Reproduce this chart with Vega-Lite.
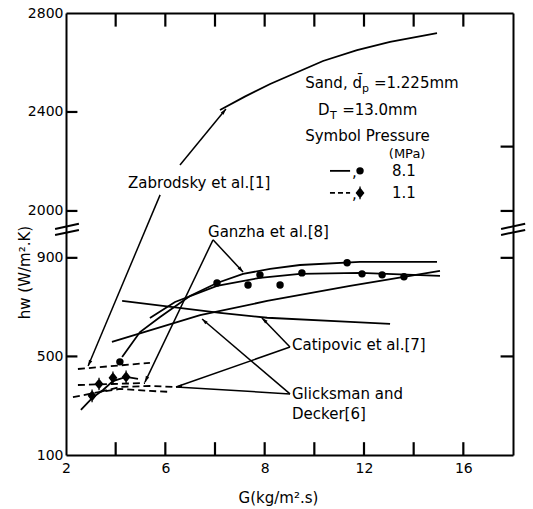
{
  "$schema": "https://vega.github.io/schema/vega-lite/v6.json",
  "width": 447,
  "height": 442,
  "autosize": {"type": "none"},
  "padding": {"left": 66, "top": 13, "right": 20, "bottom": 54},
  "background": "white",
  "config": {
    "view": {"stroke": null},
    "font": "DejaVu Sans",
    "axis": {
      "grid": false,
      "ticks": false,
      "domainColor": "black",
      "domainWidth": 2,
      "labelFont": "DejaVu Sans",
      "labelFontSize": 14,
      "labelColor": "black",
      "titleFont": "DejaVu Sans",
      "titleFontSize": 15,
      "titleFontWeight": "normal",
      "titleColor": "black"
    }
  },
  "datasets": {
    "curves": [
      {"c": "zab", "x": 6.2, "y": 2408}, {"c": "zab", "x": 7.2, "y": 2462}, {"c": "zab", "x": 8.22, "y": 2513}, {"c": "zab", "x": 10.35, "y": 2606}, {"c": "zab", "x": 11.72, "y": 2650}, {"c": "zab", "x": 13.05, "y": 2683}, {"c": "zab", "x": 14.94, "y": 2719},
      {"c": "gan", "x": 2.26, "y": 498}, {"c": "gan", "x": 2.98, "y": 599}, {"c": "gan", "x": 3.79, "y": 660}, {"c": "gan", "x": 4.99, "y": 745}, {"c": "gan", "x": 6.08, "y": 798}, {"c": "gan", "x": 7.13, "y": 835}, {"c": "gan", "x": 8.22, "y": 855}, {"c": "gan", "x": 9.42, "y": 871}, {"c": "gan", "x": 11.84, "y": 884}, {"c": "gan", "x": 14.94, "y": 884},
      {"c": "fit", "x": 3.38, "y": 656}, {"c": "fit", "x": 4.39, "y": 721}, {"c": "fit", "x": 6.08, "y": 786}, {"c": "fit", "x": 7.81, "y": 819}, {"c": "fit", "x": 9.42, "y": 835}, {"c": "fit", "x": 11.84, "y": 839}, {"c": "fit", "x": 15.06, "y": 827},
      {"c": "gli", "x": 1.85, "y": 559}, {"c": "gli", "x": 5.4, "y": 668}, {"c": "gli", "x": 8.1, "y": 725}, {"c": "gli", "x": 11.44, "y": 786}, {"c": "gli", "x": 15.06, "y": 847},
      {"c": "cat", "x": 2.26, "y": 725}, {"c": "cat", "x": 6.2, "y": 677}, {"c": "cat", "x": 8.1, "y": 657}, {"c": "cat", "x": 11.44, "y": 640}, {"c": "cat", "x": 13.05, "y": 632},
      {"c": "low", "x": 0.6, "y": 283}, {"c": "low", "x": 1.05, "y": 331}, {"c": "low", "x": 1.49, "y": 364}, {"c": "low", "x": 1.89, "y": 400}, {"c": "low", "x": 2.42, "y": 417}, {"c": "low", "x": 2.9, "y": 409}
    ],
    "dashed": [
      {"c": "zab1", "x": 0.48, "y": 449}, {"c": "zab1", "x": 3.38, "y": 474},
      {"c": "gan1", "x": 0.48, "y": 384}, {"c": "gan1", "x": 1.77, "y": 388}, {"c": "gan1", "x": 3.18, "y": 392},
      {"c": "gli1", "x": 0.28, "y": 335}, {"c": "gli1", "x": 1.37, "y": 356}, {"c": "gli1", "x": 2.17, "y": 368}, {"c": "gli1", "x": 3.38, "y": 360}, {"c": "gli1", "x": 4.19, "y": 356},
      {"c": "cat1", "x": 1.37, "y": 356}, {"c": "cat1", "x": 2.17, "y": 376}, {"c": "cat1", "x": 3.38, "y": 380}, {"c": "cat1", "x": 4.39, "y": 376}
    ],
    "circles": [
      {"x": 2.17, "y": 478}, {"x": 6.08, "y": 798}, {"x": 7.33, "y": 790}, {"x": 7.81, "y": 831}, {"x": 8.62, "y": 790},
      {"x": 9.5, "y": 839}, {"x": 11.32, "y": 880}, {"x": 11.92, "y": 835}, {"x": 12.73, "y": 831}, {"x": 13.61, "y": 823}
    ],
    "diamonds": [
      {"x": 1.05, "y": 340}, {"x": 1.33, "y": 388}, {"x": 1.89, "y": 413}, {"x": 2.42, "y": 417}
    ],
    "arrows": [
      {"id": "a1", "x": 4.59, "y": 2186, "x2": 6.44, "y2": 2412},
      {"id": "a2", "x": 3.79, "y": 2065, "x2": 0.89, "y2": 461},
      {"id": "a3", "x": 5.92, "y": 973, "x2": 7.13, "y2": 843},
      {"id": "a4", "x": 5.92, "y": 973, "x2": 3.18, "y2": 396},
      {"id": "a5", "x": 9.02, "y": 538, "x2": 7.89, "y2": 656},
      {"id": "a6", "x": 9.02, "y": 538, "x2": 4.43, "y2": 376},
      {"id": "a7", "x": 9.02, "y": 348, "x2": 5.48, "y2": 652},
      {"id": "a8", "x": 9.02, "y": 348, "x2": 4.43, "y2": 376}
    ],
    "texts": [
      {"t": "Zabrodsky et al.[1]", "x": 2.5, "y": 2113},
      {"t": "Ganzha et al.[8]", "x": 5.72, "y": 1005},
      {"t": "Catipovic et al.[7]", "x": 9.1, "y": 547},
      {"t": "Glicksman and", "x": 9.1, "y": 348},
      {"t": "Decker[6]", "x": 9.1, "y": 266},
      {"t": "Sand, d̄", "x": 9.63, "y": 2517},
      {"t": "=1.225mm", "x": 12.4, "y": 2517},
      {"t": "D", "x": 10.15, "y": 2408},
      {"t": "=13.0mm", "x": 11.12, "y": 2408},
      {"t": "Symbol Pressure", "x": 9.63, "y": 2303},
      {"t": ",", "x": 11.52, "y": 2156},
      {"t": "8.1", "x": 13.13, "y": 2162},
      {"t": ",", "x": 11.52, "y": 2067},
      {"t": "1.1", "x": 13.13, "y": 2073}
    ],
    "small": [
      {"t": "(MPa)", "x": 13.0, "y": 2232}
    ],
    "subs": [
      {"t": "p", "x": 11.92, "y": 2493},
      {"t": "T", "x": 10.63, "y": 2384}
    ],
    "leg": [
      {"k": "s", "x": 10.63, "y": 2162}, {"k": "s", "x": 11.44, "y": 2162},
      {"k": "d", "x": 10.63, "y": 2073}, {"k": "d", "x": 11.44, "y": 2073}
    ],
    "legsym": [
      {"k": "s", "x": 11.84, "y": 2162},
      {"k": "d", "x": 11.84, "y": 2073}
    ],
    "breaks": [
      {"x": -0.44, "y": 1927, "x2": 0.52, "y2": 1948},
      {"x": -0.44, "y": 993, "x2": 0.52, "y2": 1013},
      {"x": 17.52, "y": 1927, "x2": 18.49, "y2": 1948},
      {"x": 17.52, "y": 993, "x2": 18.49, "y2": 1013}
    ],
    "tk": [
      {"id": "b2", "x": 2, "y": 100}, {"id": "b2", "x": 2, "y": 152},
      {"id": "b4", "x": 4, "y": 100}, {"id": "b4", "x": 4, "y": 152},
      {"id": "b6", "x": 6, "y": 100}, {"id": "b6", "x": 6, "y": 152},
      {"id": "b8", "x": 8, "y": 100}, {"id": "b8", "x": 8, "y": 152},
      {"id": "b10", "x": 10, "y": 100}, {"id": "b10", "x": 10, "y": 152},
      {"id": "b12", "x": 12, "y": 100}, {"id": "b12", "x": 12, "y": 152},
      {"id": "b14", "x": 14, "y": 100}, {"id": "b14", "x": 14, "y": 152},
      {"id": "b16", "x": 16, "y": 100}, {"id": "b16", "x": 16, "y": 152},
      {"id": "t2", "x": 2, "y": 2800}, {"id": "t2", "x": 2, "y": 2745},
      {"id": "t4", "x": 4, "y": 2800}, {"id": "t4", "x": 4, "y": 2745},
      {"id": "t6", "x": 6, "y": 2800}, {"id": "t6", "x": 6, "y": 2745},
      {"id": "t8", "x": 8, "y": 2800}, {"id": "t8", "x": 8, "y": 2745},
      {"id": "t10", "x": 10, "y": 2800}, {"id": "t10", "x": 10, "y": 2745},
      {"id": "t12", "x": 12, "y": 2800}, {"id": "t12", "x": 12, "y": 2745},
      {"id": "t14", "x": 14, "y": 2800}, {"id": "t14", "x": 14, "y": 2745},
      {"id": "t16", "x": 16, "y": 2800}, {"id": "t16", "x": 16, "y": 2745},
      {"id": "l500", "x": 0, "y": 500}, {"id": "l500", "x": 0.46, "y": 500},
      {"id": "l900", "x": 0, "y": 900}, {"id": "l900", "x": 0.46, "y": 900},
      {"id": "l2000", "x": 0, "y": 2000}, {"id": "l2000", "x": 0.46, "y": 2000},
      {"id": "l2400", "x": 0, "y": 2400}, {"id": "l2400", "x": 0.46, "y": 2400},
      {"id": "r500", "x": 17.5, "y": 500}, {"id": "r500", "x": 18, "y": 500},
      {"id": "r900", "x": 17.5, "y": 900}, {"id": "r900", "x": 18, "y": 900},
      {"id": "r2000", "x": 17.5, "y": 2000}, {"id": "r2000", "x": 18, "y": 2000},
      {"id": "r2260", "x": 17.5, "y": 2260}, {"id": "r2260", "x": 18, "y": 2260}
    ]
  },
  "layer": [
    {
      "data": {"name": "curves"},
      "mark": {"type": "line", "color": "black", "strokeWidth": 1.8},
      "encoding": {
        "x": {"field": "x", "type": "quantitative", "scale": {"domain": [0, 18], "nice": false, "zero": false},
          "axis": {"orient": "bottom", "values": [0, 2, 4, 6, 8, 10, 12, 14, 16], "labelPadding": 6, "labelFlush": false, "labelOverlap": false,
            "labelExpr": "datum.value == 0 ? '2' : datum.value == 4 ? '6' : (datum.value % 4 == 0 ? datum.label : '')",
            "title": "G(kg/m².s)", "titleX": 212, "titleY": 42, "titleBaseline": "middle", "titleAlign": "center"}},
        "y": {"field": "y", "type": "quantitative", "scale": {"domain": [100, 1013, 1923, 2800], "range": [442, 217, 217, 0], "nice": false, "zero": false},
          "axis": {"orient": "left", "values": [100, 500, 900, 2000, 2400, 2800], "format": "d", "labelPadding": 3, "labelOverlap": false, "labelFlush": false,
            "title": "hw (W/m².K)", "titleX": -42, "titleY": 259, "titleAngle": 270, "titleBaseline": "middle", "titleAlign": "center"}},
        "detail": {"field": "c"}
      }
    },
    {
      "data": {"name": "tk"},
      "mark": {"type": "line", "color": "black", "strokeWidth": 2.2},
      "encoding": {
        "x": {"field": "x", "type": "quantitative", "scale": {"domain": [0, 18], "nice": false, "zero": false}, "axis": null},
        "y": {"field": "y", "type": "quantitative", "scale": {"domain": [100, 1013, 1923, 2800], "range": [442, 217, 217, 0], "nice": false, "zero": false}, "axis": null},
        "detail": {"field": "id"}
      }
    },
    {
      "data": {"name": "dashed"},
      "mark": {"type": "line", "color": "black", "strokeWidth": 1.8, "strokeDash": [7, 4]},
      "encoding": {
        "x": {"field": "x", "type": "quantitative", "scale": {"domain": [0, 18], "nice": false, "zero": false}, "axis": null},
        "y": {"field": "y", "type": "quantitative", "scale": {"domain": [100, 1013, 1923, 2800], "range": [442, 217, 217, 0], "nice": false, "zero": false}, "axis": null},
        "detail": {"field": "c"}
      }
    },
    {
      "data": {"name": "arrows"},
      "mark": {"type": "rule", "color": "black", "strokeWidth": 1.5},
      "encoding": {
        "x": {"field": "x", "type": "quantitative", "scale": {"domain": [0, 18], "nice": false, "zero": false}, "axis": null},
        "y": {"field": "y", "type": "quantitative", "scale": {"domain": [100, 1013, 1923, 2800], "range": [442, 217, 217, 0], "nice": false, "zero": false}, "axis": null},
        "x2": {"field": "x2"},
        "y2": {"field": "y2"}
      }
    },
    {
      "data": {"name": "arrows"},
      "transform": [{"filter": "datum.id == 'a1'"}],
      "mark": {"type": "point", "filled": true, "color": "black", "opacity": 1, "size": 64, "angle": 39, "shape": "M0,0L-0.45,1.5L0.45,1.5Z"},
      "encoding": {
        "x": {"field": "x2", "type": "quantitative", "scale": {"domain": [0, 18], "nice": false, "zero": false}, "axis": null},
        "y": {"field": "y2", "type": "quantitative", "scale": {"domain": [100, 1013, 1923, 2800], "range": [442, 217, 217, 0], "nice": false, "zero": false}, "axis": null}
      }
    },
    {
      "data": {"name": "arrows"},
      "transform": [{"filter": "datum.id == 'a2' || datum.id == 'a4'"}],
      "mark": {"type": "point", "filled": true, "color": "black", "opacity": 1, "size": 64, "angle": 205, "shape": "M0,0L-0.45,1.5L0.45,1.5Z"},
      "encoding": {
        "x": {"field": "x2", "type": "quantitative", "scale": {"domain": [0, 18], "nice": false, "zero": false}, "axis": null},
        "y": {"field": "y2", "type": "quantitative", "scale": {"domain": [100, 1013, 1923, 2800], "range": [442, 217, 217, 0], "nice": false, "zero": false}, "axis": null}
      }
    },
    {
      "data": {"name": "arrows"},
      "transform": [{"filter": "datum.id == 'a3'"}],
      "mark": {"type": "point", "filled": true, "color": "black", "opacity": 1, "size": 64, "angle": 137, "shape": "M0,0L-0.45,1.5L0.45,1.5Z"},
      "encoding": {
        "x": {"field": "x2", "type": "quantitative", "scale": {"domain": [0, 18], "nice": false, "zero": false}, "axis": null},
        "y": {"field": "y2", "type": "quantitative", "scale": {"domain": [100, 1013, 1923, 2800], "range": [442, 217, 217, 0], "nice": false, "zero": false}, "axis": null}
      }
    },
    {
      "data": {"name": "arrows"},
      "transform": [{"filter": "datum.id == 'a5' || datum.id == 'a7'"}],
      "mark": {"type": "point", "filled": true, "color": "black", "opacity": 1, "size": 64, "angle": 313, "shape": "M0,0L-0.45,1.5L0.45,1.5Z"},
      "encoding": {
        "x": {"field": "x2", "type": "quantitative", "scale": {"domain": [0, 18], "nice": false, "zero": false}, "axis": null},
        "y": {"field": "y2", "type": "quantitative", "scale": {"domain": [100, 1013, 1923, 2800], "range": [442, 217, 217, 0], "nice": false, "zero": false}, "axis": null}
      }
    },
    {
      "data": {"name": "arrows"},
      "transform": [{"filter": "datum.id == 'a6'"}],
      "mark": {"type": "point", "filled": true, "color": "black", "opacity": 1, "size": 64, "angle": 262, "shape": "M0,0L-0.45,1.5L0.45,1.5Z"},
      "encoding": {
        "x": {"field": "x2", "type": "quantitative", "scale": {"domain": [0, 18], "nice": false, "zero": false}, "axis": null},
        "y": {"field": "y2", "type": "quantitative", "scale": {"domain": [100, 1013, 1923, 2800], "range": [442, 217, 217, 0], "nice": false, "zero": false}, "axis": null}
      }
    },
    {
      "data": {"name": "circles"},
      "mark": {"type": "point", "filled": true, "color": "black", "opacity": 1, "size": 55, "shape": "circle"},
      "encoding": {
        "x": {"field": "x", "type": "quantitative", "scale": {"domain": [0, 18], "nice": false, "zero": false}, "axis": null},
        "y": {"field": "y", "type": "quantitative", "scale": {"domain": [100, 1013, 1923, 2800], "range": [442, 217, 217, 0], "nice": false, "zero": false}, "axis": null}
      }
    },
    {
      "data": {"name": "diamonds"},
      "mark": {"type": "point", "filled": true, "color": "black", "stroke": "black", "strokeWidth": 1.3, "opacity": 1, "size": 81, "shape": "M0,-1.4L0,1.4M-0.8,0L0,-1L0.8,0L0,1Z"},
      "encoding": {
        "x": {"field": "x", "type": "quantitative", "scale": {"domain": [0, 18], "nice": false, "zero": false}, "axis": null},
        "y": {"field": "y", "type": "quantitative", "scale": {"domain": [100, 1013, 1923, 2800], "range": [442, 217, 217, 0], "nice": false, "zero": false}, "axis": null}
      }
    },
    {
      "data": {"name": "leg"},
      "transform": [{"filter": "datum.k == 's'"}],
      "mark": {"type": "line", "color": "black", "strokeWidth": 1.8},
      "encoding": {
        "x": {"field": "x", "type": "quantitative", "scale": {"domain": [0, 18], "nice": false, "zero": false}, "axis": null},
        "y": {"field": "y", "type": "quantitative", "scale": {"domain": [100, 1013, 1923, 2800], "range": [442, 217, 217, 0], "nice": false, "zero": false}, "axis": null}
      }
    },
    {
      "data": {"name": "leg"},
      "transform": [{"filter": "datum.k == 'd'"}],
      "mark": {"type": "line", "color": "black", "strokeWidth": 1.8, "strokeDash": [5, 3]},
      "encoding": {
        "x": {"field": "x", "type": "quantitative", "scale": {"domain": [0, 18], "nice": false, "zero": false}, "axis": null},
        "y": {"field": "y", "type": "quantitative", "scale": {"domain": [100, 1013, 1923, 2800], "range": [442, 217, 217, 0], "nice": false, "zero": false}, "axis": null}
      }
    },
    {
      "data": {"name": "legsym"},
      "transform": [{"filter": "datum.k == 's'"}],
      "mark": {"type": "point", "filled": true, "color": "black", "opacity": 1, "size": 55, "shape": "circle"},
      "encoding": {
        "x": {"field": "x", "type": "quantitative", "scale": {"domain": [0, 18], "nice": false, "zero": false}, "axis": null},
        "y": {"field": "y", "type": "quantitative", "scale": {"domain": [100, 1013, 1923, 2800], "range": [442, 217, 217, 0], "nice": false, "zero": false}, "axis": null}
      }
    },
    {
      "data": {"name": "legsym"},
      "transform": [{"filter": "datum.k == 'd'"}],
      "mark": {"type": "point", "filled": true, "color": "black", "stroke": "black", "strokeWidth": 1.3, "opacity": 1, "size": 81, "shape": "M0,-1.4L0,1.4M-0.8,0L0,-1L0.8,0L0,1Z"},
      "encoding": {
        "x": {"field": "x", "type": "quantitative", "scale": {"domain": [0, 18], "nice": false, "zero": false}, "axis": null},
        "y": {"field": "y", "type": "quantitative", "scale": {"domain": [100, 1013, 1923, 2800], "range": [442, 217, 217, 0], "nice": false, "zero": false}, "axis": null}
      }
    },
    {
      "data": {"name": "texts"},
      "mark": {"type": "text", "align": "left", "baseline": "middle", "font": "DejaVu Sans", "fontSize": 15, "color": "black"},
      "encoding": {
        "x": {"field": "x", "type": "quantitative", "scale": {"domain": [0, 18], "nice": false, "zero": false}, "axis": null},
        "y": {"field": "y", "type": "quantitative", "scale": {"domain": [100, 1013, 1923, 2800], "range": [442, 217, 217, 0], "nice": false, "zero": false}, "axis": null},
        "text": {"field": "t"}
      }
    },
    {
      "data": {"name": "small"},
      "mark": {"type": "text", "align": "left", "baseline": "middle", "font": "DejaVu Sans", "fontSize": 13, "color": "black"},
      "encoding": {
        "x": {"field": "x", "type": "quantitative", "scale": {"domain": [0, 18], "nice": false, "zero": false}, "axis": null},
        "y": {"field": "y", "type": "quantitative", "scale": {"domain": [100, 1013, 1923, 2800], "range": [442, 217, 217, 0], "nice": false, "zero": false}, "axis": null},
        "text": {"field": "t"}
      }
    },
    {
      "data": {"name": "subs"},
      "mark": {"type": "text", "align": "left", "baseline": "middle", "font": "DejaVu Sans", "fontSize": 11, "color": "black"},
      "encoding": {
        "x": {"field": "x", "type": "quantitative", "scale": {"domain": [0, 18], "nice": false, "zero": false}, "axis": null},
        "y": {"field": "y", "type": "quantitative", "scale": {"domain": [100, 1013, 1923, 2800], "range": [442, 217, 217, 0], "nice": false, "zero": false}, "axis": null},
        "text": {"field": "t"}
      }
    },
    {
      "data": {"name": "breaks"},
      "mark": {"type": "rule", "color": "black", "strokeWidth": 2},
      "encoding": {
        "x": {"field": "x", "type": "quantitative", "scale": {"domain": [0, 18], "nice": false, "zero": false}, "axis": null},
        "y": {"field": "y", "type": "quantitative", "scale": {"domain": [100, 1013, 1923, 2800], "range": [442, 217, 217, 0], "nice": false, "zero": false}, "axis": null},
        "x2": {"field": "x2"},
        "y2": {"field": "y2"}
      }
    },
    {
      "data": {"values": [{"x": 0, "y": 100}]},
      "mark": {"type": "point", "opacity": 0},
      "encoding": {
        "x": {"field": "x", "type": "quantitative", "scale": {"domain": [0, 18], "nice": false, "zero": false},
          "axis": {"orient": "top", "values": [2, 4, 6, 8, 10, 12, 14, 16], "labels": false, "title": null}},
        "y": {"field": "y", "type": "quantitative", "scale": {"domain": [100, 1013, 1923, 2800], "range": [442, 217, 217, 0], "nice": false, "zero": false},
          "axis": {"orient": "right", "values": [500, 900, 2000, 2260], "labels": false, "title": null}}
      }
    }
  ],
  "resolve": {"axis": {"x": "independent", "y": "independent"}}
}
